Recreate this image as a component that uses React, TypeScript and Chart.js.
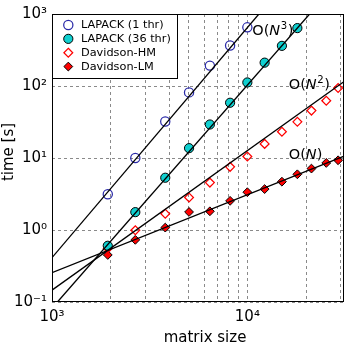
import { useEffect, useRef } from "react";
import { Chart, registerables } from "chart.js";
Chart.register(...registerables);

const FONT = "'DejaVu Sans', 'Liberation Sans', sans-serif";

const sizes = [1930, 2670, 3800, 5030, 6430, 8160, 10000, 12260, 15030, 18030, 21290, 25350, 29150];
const lapack1 = [3.14, 10.0, 32.1, 81.5, 192, 365, 653];
const lapack36 = [0.604, 1.77, 5.32, 13.7, 29.2, 58.5, 112, 211, 361, 637];
const davidsonHM = [0.555, 0.99, 1.68, 2.83, 4.55, 7.53, 10.5, 15.7, 23.2, 31.8, 45.5, 62.3, 93.9];
const davidsonLM = [0.45, 0.73, 1.08, 1.78, 1.82, 2.54, 3.35, 3.7, 4.69, 5.94, 7.13, 8.54, 9.3];

const fitLapack1 = [[1000, 0.413], [11460, 1000]];
const fitLapack36 = [[1066, 0.1], [20840, 1000]];
const fitHM = [[1000, 0.146], [31300, 115.6]];
const fitLM = [[1000, 0.255], [31300, 10.6]];

const legendLabels = ["LAPACK (1 thr)", "LAPACK (36 thr)", "Davidson-HM", "Davidson-LM"];
const orderLabels = [
  { exp: "3", x: 10600, y: 507 },
  { exp: "2", x: 16300, y: 91 },
  { exp: "", x: 16300, y: 9.7 },
];

const xTicks = [1000, 2000, 3000, 4000, 5000, 6000, 7000, 8000, 9000, 10000, 20000, 30000];
const xTickLabels: Record<number, string> = { 1000: "10³", 10000: "10⁴" };
const yTicks = [0.1, 1, 10, 100, 1000];
const yTickLabels: Record<number, string> = { 0.1: "10⁻¹", 1: "10⁰", 10: "10¹", 100: "10²", 1000: "10³" };

const xMin = 1000;
const xMax = 31300;
const yMin = 0.1;
const yMax = 1000;

const BLUE = "#2a2aa8";
const CYAN = "#10d0d0";
const RED = "#ff0000";

type Marker = { shape: "circle" | "diamond"; fill: string | null; stroke: string; width: number };
const markers: Marker[] = [
  { shape: "circle", fill: null, stroke: BLUE, width: 1.25 },
  { shape: "circle", fill: CYAN, stroke: "#000", width: 1 },
  { shape: "diamond", fill: null, stroke: RED, width: 1.25 },
  { shape: "diamond", fill: RED, stroke: "#000", width: 1 },
];

function drawMarker(ctx: CanvasRenderingContext2D, m: Marker, x: number, y: number) {
  ctx.beginPath();
  if (m.shape === "circle") {
    ctx.arc(x, y, 4.6, 0, Math.PI * 2);
  } else {
    const r = 4.4;
    ctx.moveTo(x, y - r);
    ctx.lineTo(x + r, y);
    ctx.lineTo(x, y + r);
    ctx.lineTo(x - r, y);
    ctx.closePath();
  }
  if (m.fill) {
    ctx.fillStyle = m.fill;
    ctx.fill();
  }
  ctx.lineWidth = m.width;
  ctx.strokeStyle = m.stroke;
  ctx.stroke();
}

function drawOrder(ctx: CanvasRenderingContext2D, x: number, y: number, exp: string) {
  const size = 14.5;
  ctx.textAlign = "left";
  ctx.textBaseline = "alphabetic";
  ctx.fillStyle = "#000";
  let cx = x;
  ctx.font = `${size}px ${FONT}`;
  ctx.fillText("O(", cx, y);
  cx += ctx.measureText("O(").width;
  ctx.font = `italic ${size}px ${FONT}`;
  ctx.fillText("N", cx, y);
  cx += ctx.measureText("N").width;
  if (exp) {
    ctx.font = `${size * 0.7}px ${FONT}`;
    ctx.fillText(exp, cx + 0.5, y - 6);
    cx += ctx.measureText(exp).width + 1;
  }
  ctx.font = `${size}px ${FONT}`;
  ctx.fillText(")", cx, y);
}

const overlayPlugin = {
  id: "overlay",
  afterDatasetsDraw(chart: any) {
    const ctx: CanvasRenderingContext2D = chart.ctx;
    const a = chart.chartArea;
    const xs = chart.scales.x;
    const ys = chart.scales.y;
    ctx.save();

    orderLabels.forEach((o) => {
      drawOrder(ctx, xs.getPixelForValue(o.x), ys.getPixelForValue(o.y), o.exp);
    });

    const lx = a.left;
    const ly = a.top;
    const lw = 125;
    const lh = 64;
    ctx.fillStyle = "#fff";
    ctx.fillRect(lx, ly, lw, lh);
    ctx.strokeStyle = "#000";
    ctx.lineWidth = 1;
    ctx.strokeRect(lx + 0.5, ly + 0.5, lw, lh);
    ctx.font = `11.3px ${FONT}`;
    ctx.textBaseline = "middle";
    ctx.textAlign = "left";
    legendLabels.forEach((lab, i) => {
      const yy = ly + 11 + i * 13.85;
      drawMarker(ctx, markers[i], lx + 16.3, yy);
      ctx.fillStyle = "#000";
      ctx.fillText(lab, lx + 29, yy + 0.5);
    });

    ctx.strokeStyle = "#000";
    ctx.lineWidth = 1;
    ctx.strokeRect(Math.round(a.left) + 0.5, Math.round(a.top) + 0.5, Math.round(a.right) - Math.round(a.left) - 1, Math.round(a.bottom) - Math.round(a.top) - 1);

    ctx.fillStyle = "#000";
    ctx.font = `15px ${FONT}`;
    ctx.textAlign = "center";
    ctx.textBaseline = "alphabetic";
    ctx.fillText("matrix size", 205, 342);
    ctx.translate(13, 152);
    ctx.rotate(-Math.PI / 2);
    ctx.fillText("time [s]", 0, 0);
    ctx.restore();
  },
};

function markerDataset(label: string, ys: number[], m: Marker) {
  return {
    label,
    data: ys.map((v, i) => ({ x: sizes[i], y: v })),
    pointStyle: m.shape === "circle" ? "circle" : "rectRot",
    pointRadius: m.shape === "circle" ? 4.6 : 4.4,
    pointBackgroundColor: m.fill ?? "rgba(0,0,0,0)",
    pointBorderColor: m.stroke,
    pointBorderWidth: m.width,
    showLine: false,
  };
}

function fitDataset(pts: number[][]) {
  return {
    label: "fit",
    data: pts.map(([x, y]) => ({ x, y })),
    showLine: true,
    borderColor: "#000",
    borderWidth: 1.3,
    pointRadius: 0,
    pointHoverRadius: 0,
  };
}

export default function App() {
  const ref = useRef<HTMLCanvasElement | null>(null);
  useEffect(() => {
    if (!ref.current) return;
    const chart = new Chart(ref.current, {
      type: "scatter",
      data: {
        datasets: [
          fitDataset(fitLapack1),
          fitDataset(fitLapack36),
          fitDataset(fitHM),
          fitDataset(fitLM),
          markerDataset(legendLabels[0], lapack1, markers[0]),
          markerDataset(legendLabels[1], lapack36, markers[1]),
          markerDataset(legendLabels[2], davidsonHM, markers[2]),
          markerDataset(legendLabels[3], davidsonLM, markers[3]),
        ] as any,
      },
      options: {
        animation: false,
        responsive: false,
        events: [],
        layout: { padding: { top: 10, right: 2, left: 0, bottom: 0 } },
        plugins: { legend: { display: false }, tooltip: { enabled: false } },
        scales: {
          x: {
            type: "logarithmic",
            min: xMin,
            max: xMax,
            afterBuildTicks: (s: any) => {
              s.ticks = xTicks.map((v) => ({ value: v }));
            },
            afterFit: (s: any) => {
              s.height = 42;
            },
            grid: { color: "#8a8a8a", lineWidth: 1, drawTicks: false },
            border: { display: false, dash: [3, 3] },
            ticks: {
              autoSkip: false,
              maxRotation: 0,
              padding: 6,
              color: "#000",
              font: { family: FONT, size: 15 },
              callback: (v: any) => xTickLabels[Number(v)] ?? "",
            },
          },
          y: {
            type: "logarithmic",
            min: yMin,
            max: yMax,
            afterBuildTicks: (s: any) => {
              s.ticks = yTicks.map((v) => ({ value: v }));
            },
            afterFit: (s: any) => {
              s.width = 52;
            },
            grid: { color: "#8a8a8a", lineWidth: 1, drawTicks: false },
            border: { display: false, dash: [3, 3] },
            ticks: {
              autoSkip: false,
              padding: 5,
              color: "#000",
              font: { family: FONT, size: 15 },
              callback: (v: any) => yTickLabels[Number(v)] ?? "",
            },
          },
        },
      },
      plugins: [overlayPlugin],
    });
    return () => chart.destroy();
  }, []);
  return (
    <div style={{ position: "absolute", left: 0, top: 0, width: 350, height: 344, background: "#fff" }}>
      <canvas ref={ref} width={350} height={344} style={{ display: "block", width: 350, height: 344 }} />
    </div>
  );
}
